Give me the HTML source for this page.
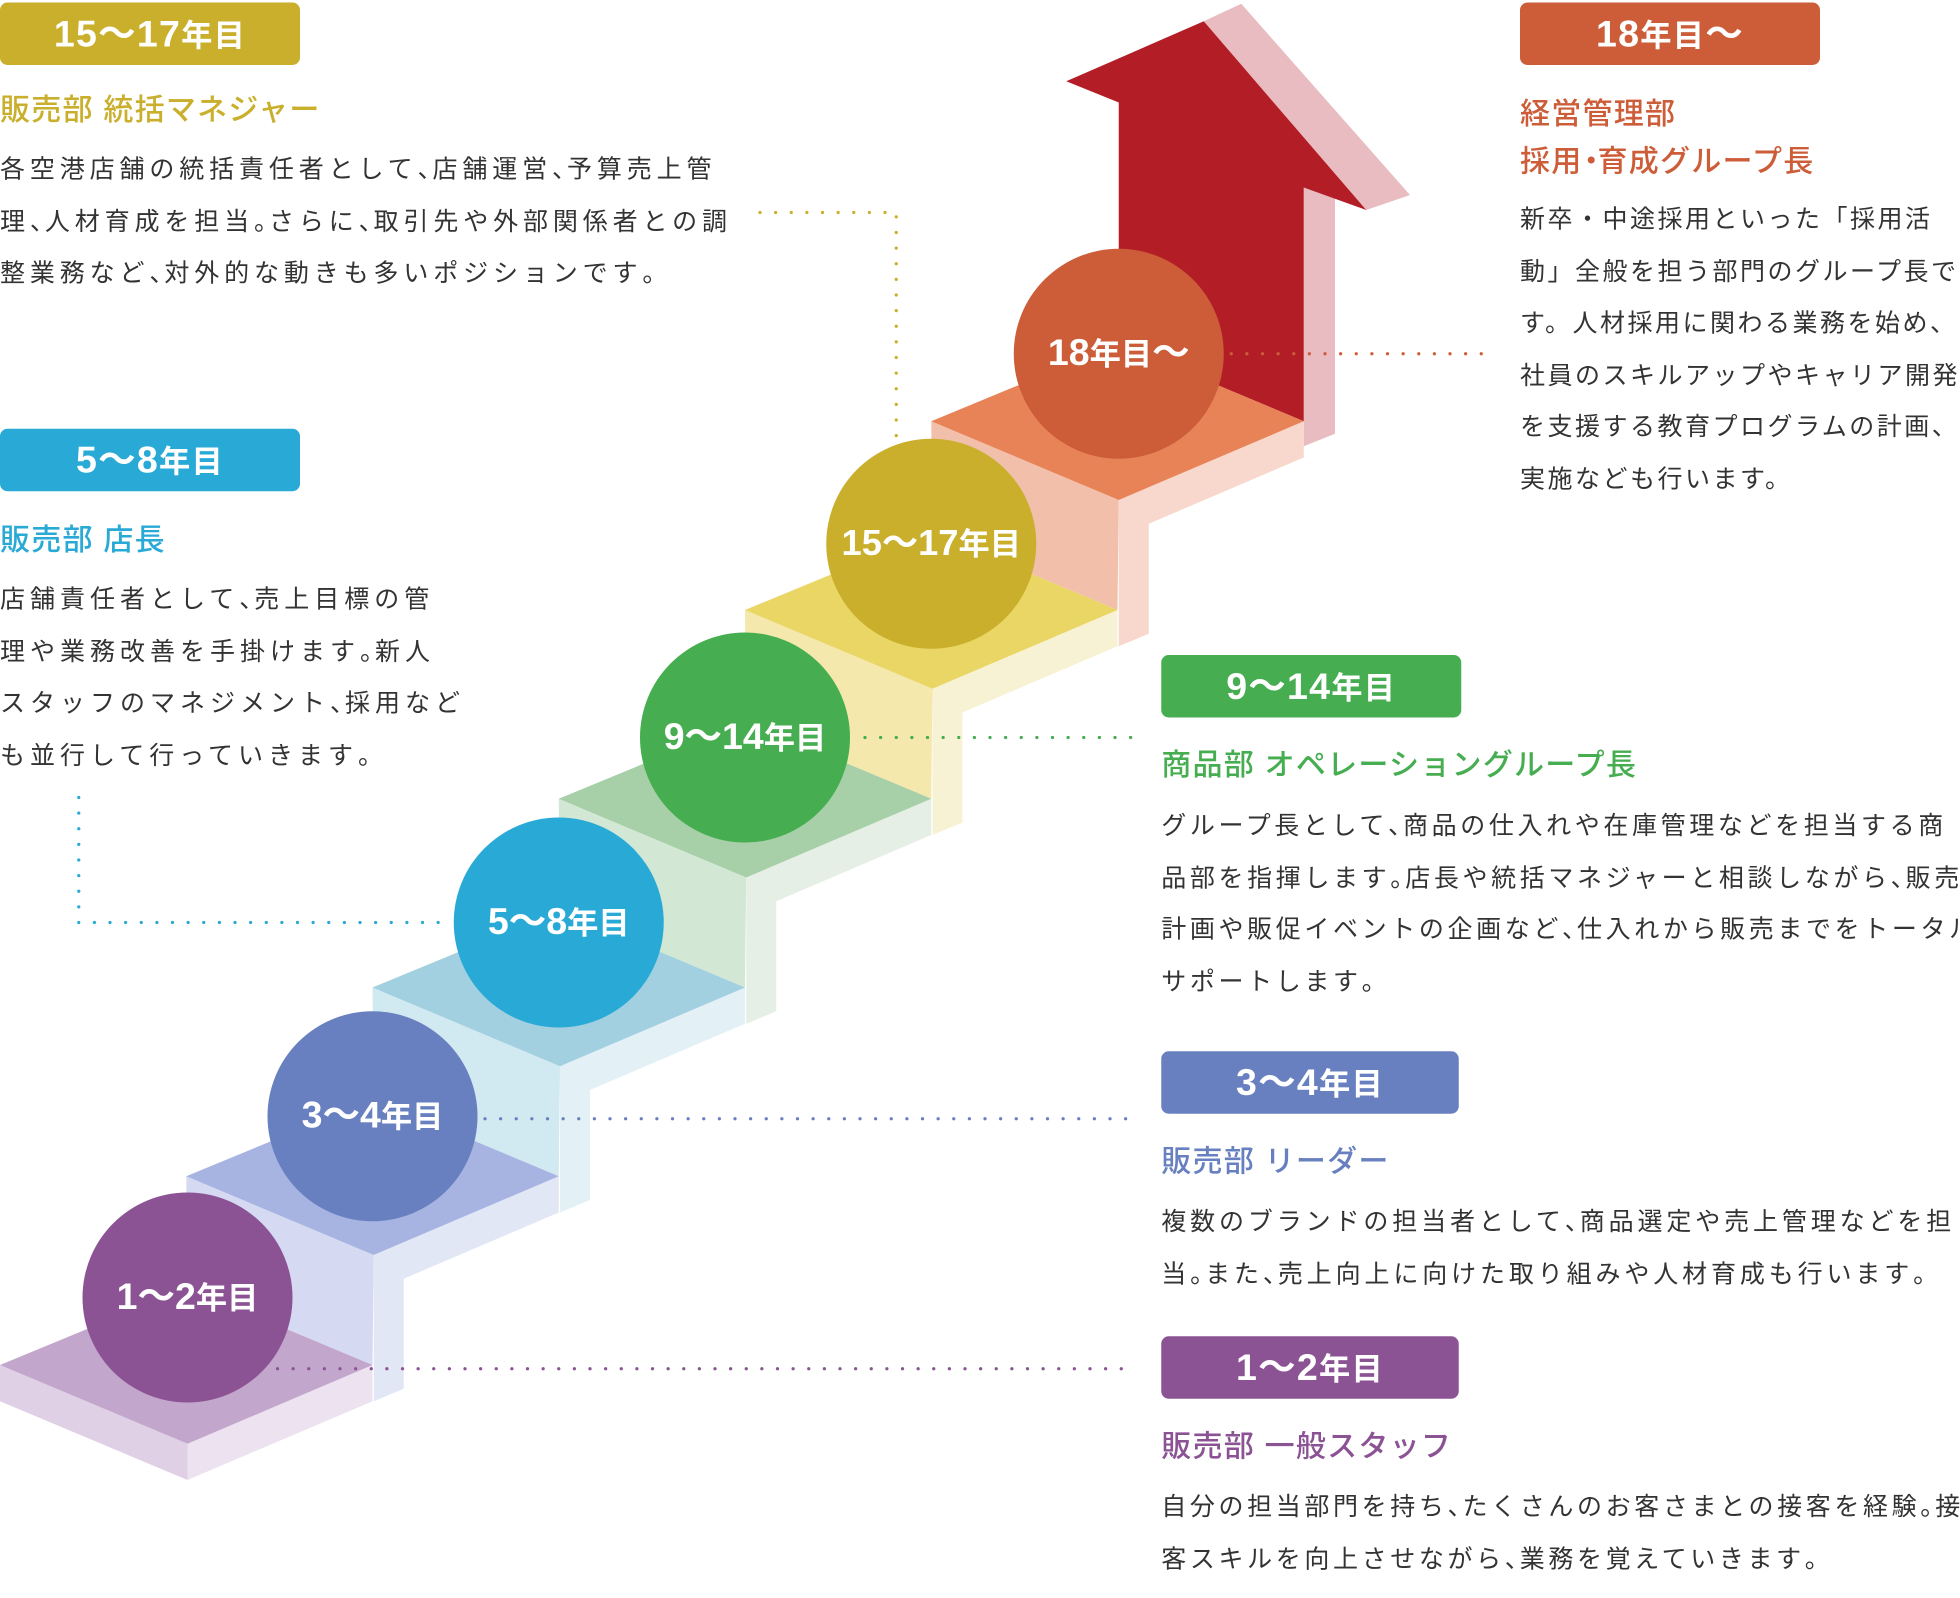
<!DOCTYPE html>
<html><head><meta charset="utf-8">
<style>
html,body{margin:0;padding:0;background:#fff;width:1960px;height:1597px;overflow:hidden}
#wrap{position:absolute;left:0;top:0;width:1568px;height:1278px;transform:scale(1.25);transform-origin:0 0;font-family:"Liberation Sans","Noto Sans CJK JP",sans-serif;overflow:hidden}
svg{position:absolute;left:0;top:0}
.badge{position:absolute;height:50px;border-radius:6px;color:#fff;font-weight:bold;text-align:center;line-height:52px;font-size:30px;letter-spacing:1px}
.badge small{font-size:25px}
.h{position:absolute;font-size:24px;font-weight:500;letter-spacing:1px;white-space:nowrap;line-height:38px}
.b{position:absolute;font-size:20px;color:#333;letter-spacing:3.4px;line-height:41.5px;white-space:nowrap}
.p{display:inline-block;width:12px;letter-spacing:0;overflow:visible}
.m{display:inline-block;width:12px;letter-spacing:0;text-indent:-5px;overflow:visible}
.c{position:absolute;width:168px;height:168px;border-radius:50%;color:#fff;font-weight:bold;text-align:center;line-height:168px;font-size:30px;white-space:nowrap}
.c small{font-size:25px}
</style></head><body><div id="wrap">
<svg width="1568" height="1278" viewBox="0 0 1568 1278">
<polygon points="963,17 993,3 1128,156 1093,168" fill="#e8bcc0"/>
<polygon points="1043,150 1068,141 1068,347 1043,357" fill="#e8bcc0"/>
<polygon points="895,82 853,65 963,17 1093,168 1043,150 1043,337 895,275" fill="#b31e26"/>
<polygon points="745,337 895,400 894,488 746,426" fill="#f2c0aa"/>
<polygon points="895,400 1043,337 1043,366 919,419 919,507 895,517" fill="#f8d8cd"/>
<polygon points="745,337 895,275 1043,337 895,400" fill="#e78357"/>
<polygon points="596,488 746,551 745,639 597,577" fill="#f4e8ac"/>
<polygon points="746,551 894,488 894,517 770,570 770,658 746,668" fill="#f8f2d4"/>
<polygon points="596,488 746,426 894,488 746,551" fill="#ead664"/>
<polygon points="447,639 597,702 596,790 448,728" fill="#d3e8d4"/>
<polygon points="597,702 745,639 745,668 621,721 621,809 597,819" fill="#e5efe5"/>
<polygon points="447,639 597,577 745,639 597,702" fill="#a7cfa8"/>
<polygon points="298,790 448,853 447,941 299,879" fill="#d1e9f0"/>
<polygon points="448,853 596,790 596,819 472,872 472,960 448,970" fill="#e3f0f6"/>
<polygon points="298,790 448,728 596,790 448,853" fill="#a2d0e0"/>
<polygon points="149,941 299,1004 298,1092 150,1030" fill="#d5daf2"/>
<polygon points="299,1004 447,941 447,970 323,1023 323,1111 299,1121" fill="#e2e7f6"/>
<polygon points="149,941 299,879 447,941 299,1004" fill="#a7b4e2"/>
<polygon points="0,1092 150,1155 150,1184 0,1121" fill="#dfd0e5"/>
<polygon points="150,1155 298,1092 298,1121 150,1184" fill="#ede2ef"/>
<polygon points="0,1092 150,1030 298,1092 150,1155" fill="#c3a6cc"/>
<g fill="none" stroke-width="2.6" stroke-linecap="round" stroke-dasharray="0 12.5">
<line x1="222" y1="1095" x2="902" y2="1095" stroke="#8b5394"/>
<line x1="388" y1="895" x2="910" y2="895" stroke="#6880c0"/>
<polyline points="63,638 63,738 362,738" stroke="#29aad6"/>
<line x1="692" y1="590" x2="910" y2="590" stroke="#46ad50"/>
<polyline points="608,170 717,170 717,350" stroke="#c9af2b"/>
<line x1="985" y1="283" x2="1190" y2="283" stroke="#cd5d38"/>
</g>
</svg>
<div class="c" style="left:811px;top:199px;background:#cd5d38">18<small>年目</small>〜</div>
<div class="c" style="left:661px;top:351px;background:#c9af2b;font-size:29px">15〜17<small>年目</small></div>
<div class="c" style="left:512px;top:506px;background:#46ad50">9〜14<small>年目</small></div>
<div class="c" style="left:363px;top:654px;background:#29aad6">5〜8<small>年目</small></div>
<div class="c" style="left:214px;top:809px;background:#6880c0">3〜4<small>年目</small></div>
<div class="c" style="left:66px;top:954px;background:#8b5394">1〜2<small>年目</small></div>

<div class="badge" style="left:0;top:2px;width:240px;background:#c9af2b">15〜17<small>年目</small></div>
<div class="h" style="left:0;top:70px;color:#c9af2b">販売部 統括マネジャー</div>
<div class="b" style="left:0;top:116px;letter-spacing:3.9px">各空港店舗の統括責任者として<span class="p">、</span>店舗運営<span class="p">、</span>予算売上管<br>理<span class="p">、</span>人材育成を担当<span class="p">。</span>さらに<span class="p">、</span>取引先や外部関係者との調<br>整業務など<span class="p">、</span>対外的な動きも多いポジションです<span class="p">。</span></div>

<div class="badge" style="left:0;top:343px;width:240px;background:#29aad6">5〜8<small>年目</small></div>
<div class="h" style="left:0;top:414px;color:#29aad6">販売部 店長</div>
<div class="b" style="left:0;top:460px;letter-spacing:4.0px">店舗責任者として<span class="p">、</span>売上目標の管<br>理や業務改善を手掛けます<span class="p">。</span>新人<br>スタッフのマネジメント<span class="p">、</span>採用など<br>も並行して行っていきます<span class="p">。</span></div>

<div class="badge" style="left:1216px;top:2px;width:240px;background:#cd5d38">18<small>年目</small>〜</div>
<div class="h" style="left:1216px;top:73px;color:#cd5d38">経営管理部</div>
<div class="h" style="left:1216px;top:111px;color:#cd5d38">採用<span class="m">・</span>育成グループ長</div>
<div class="b" style="left:1216px;top:156px;letter-spacing:2px">新卒・中途採用といった「採用活<br>動」全般を担う部門のグループ長で<br>す。人材採用に関わる業務を始め、<br>社員のスキルアップやキャリア開発<br>を支援する教育プログラムの計画、<br>実施なども行います。</div>

<div class="badge" style="left:929px;top:524px;width:240px;background:#46ad50">9〜14<small>年目</small></div>
<div class="h" style="left:929px;top:594px;color:#46ad50">商品部 オペレーショングループ長</div>
<div class="b" style="left:929px;top:641px;letter-spacing:2.9px">グループ長として<span class="p">、</span>商品の仕入れや在庫管理などを担当する商<br>品部を指揮します<span class="p">。</span>店長や統括マネジャーと相談しながら<span class="p">、</span>販売<br>計画や販促イベントの企画など<span class="p">、</span>仕入れから販売までをトータル<br>サポートします<span class="p">。</span></div>

<div class="badge" style="left:929px;top:841px;width:238px;background:#6880c0">3〜4<small>年目</small></div>
<div class="h" style="left:929px;top:911px;color:#6880c0">販売部 リーダー</div>
<div class="b" style="left:929px;top:958px;letter-spacing:3.1px">複数のブランドの担当者として<span class="p">、</span>商品選定や売上管理などを担<br>当<span class="p">。</span>また<span class="p">、</span>売上向上に向けた取り組みや人材育成も行います<span class="p">。</span></div>

<div class="badge" style="left:929px;top:1069px;width:238px;background:#8b5394">1〜2<small>年目</small></div>
<div class="h" style="left:929px;top:1139px;color:#8b5394">販売部 一般スタッフ</div>
<div class="b" style="left:929px;top:1186px;letter-spacing:2.9px">自分の担当部門を持ち<span class="p">、</span>たくさんのお客さまとの接客を経験<span class="p">。</span>接<br>客スキルを向上させながら<span class="p">、</span>業務を覚えていきます<span class="p">。</span></div>
</div></body></html>
